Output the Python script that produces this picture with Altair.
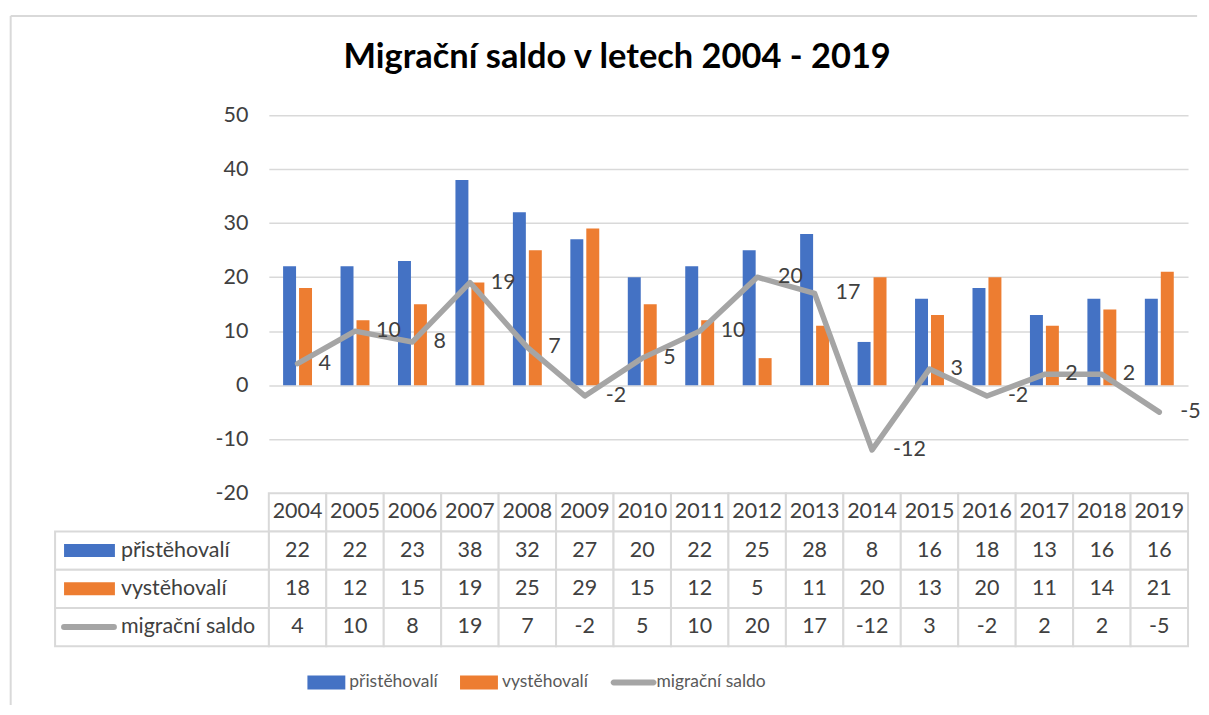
import altair as alt
import pandas as pd

# ---------------- data ----------------
years = [str(y) for y in range(2004, 2020)]
pristehovali = [22, 22, 23, 38, 32, 27, 20, 22, 25, 28, 8, 16, 18, 13, 16, 16]
vystehovali = [18, 12, 15, 19, 25, 29, 15, 12, 5, 11, 20, 13, 20, 11, 14, 21]
saldo = [4, 10, 8, 19, 7, -2, 5, 10, 20, 17, -12, 3, -2, 2, 2, -5]
series = ["přistěhovalí", "vystěhovalí", "migrační saldo"]
colors = ["#4472c4", "#ed7d31", "#a5a5a5"]
y_ticks = [-20, -10, 0, 10, 20, 30, 40, 50]
title_text = "Migrační saldo v letech 2004 - 2019"

# ---------------- tables ----------------
bars_df = pd.DataFrame(
    [{"year": y, "series": series[0], "value": p} for y, p in zip(years, pristehovali)]
    + [{"year": y, "series": series[1], "value": v} for y, v in zip(years, vystehovali)]
)
saldo_df = pd.DataFrame({"year": years, "value": saldo, "label": [str(s) for s in saldo]})
rows = ["rok"] + series
table_df = pd.DataFrame(
    [{"year": y, "row": "rok", "text": y} for y in years]
    + [{"year": y, "row": series[0], "text": str(v)} for y, v in zip(years, pristehovali)]
    + [{"year": y, "row": series[1], "text": str(v)} for y, v in zip(years, vystehovali)]
    + [{"year": y, "row": series[2], "text": str(v)} for y, v in zip(years, saldo)]
)
rows_df = pd.DataFrame({"row": series})
one_df = pd.DataFrame({"k": [0]})

# ---------------- styling ----------------
FONT = "Lato"
FS = 21.5
TXT = "#404040"
GRID = "#d9d9d9"
COLW = 57.6
W = COLW * len(years)
H = 379
TH = 153.4

x_scale = alt.Scale(domain=years, paddingInner=0, paddingOuter=0)
y_scale = alt.Scale(domain=[-20, 50], nice=False, zero=False)
color_scale = alt.Scale(domain=series, range=colors)
bar_path = "M-1,-0.368H1V0.368H-1Z"
line_path = "M-1.05,-0.158H1.05A0.158,0.158 0 0 1 1.05,0.158H-1.05A0.158,0.158 0 0 1 -1.05,-0.158Z"
shape_scale = alt.Scale(domain=series, range=[bar_path, bar_path, line_path])

X = alt.X("year:N", scale=x_scale, sort=years, axis=None)
y_axis = alt.Axis(values=y_ticks, grid=True, gridColor=GRID, gridWidth=1.5,
                  domain=False, ticks=False, labelPadding=21, title=None,
                  labelExpr="'' + datum.value",
                  labelFont=FONT, labelFontSize=FS, labelColor=TXT)
Y = alt.Y("value:Q", scale=y_scale, axis=y_axis)

legend = alt.Legend(
    orient="none", legendX=38.7, legendY=549.5, direction="horizontal", title=None,
    symbolSize=1444, symbolStrokeWidth=0, labelFont=FONT, labelFontSize=17.5,
    labelColor="#595959", labelOffset=4, columnPadding=22, padding=0,
)

bars = alt.Chart(bars_df).mark_bar().encode(
    x=X,
    xOffset=alt.XOffset("series:N", sort=series[:2],
                        scale=alt.Scale(domain=series[:2], paddingInner=0.1875, paddingOuter=0.894)),
    y=Y,
    color=alt.Color("series:N", scale=color_scale, legend=legend),
)

line = alt.Chart(saldo_df).mark_line(
    color=colors[2], strokeWidth=5.5, strokeCap="round", strokeJoin="round"
).encode(x=X, y=Y)

labels = alt.Chart(saldo_df).mark_text(
    align="left", baseline="middle", dx=21, font=FONT, fontSize=FS, color=TXT
).encode(x=X, y=Y, text="label:N")

legend_layer = alt.Chart(pd.DataFrame({"series": series})).mark_point(
    filled=True, opacity=1
).encode(
    color=alt.Color("series:N", scale=color_scale, legend=legend),
    shape=alt.Shape("series:N", scale=shape_scale, legend=legend),
).transform_filter("false")

border_top = alt.Chart(one_df).mark_rule(color=GRID, strokeWidth=2).encode(
    x=alt.value(-258.8), x2=alt.value(1200 - 269.3), y=alt.value(-99.5), y2=alt.value(-99.5)
)
border_left = alt.Chart(one_df).mark_rule(color=GRID, strokeWidth=2).encode(
    x=alt.value(-258.8), x2=alt.value(-258.8), y=alt.value(-99.5), y2=alt.value(706 - 114.5)
)

top = alt.layer(border_top, border_left, bars, line, labels, legend_layer).properties(width=W, height=H)

# ---------------- data table ----------------
TY = alt.Y("row:N", sort=rows, scale=alt.Scale(domain=rows, paddingInner=0, paddingOuter=0), axis=None)

cells = alt.Chart(table_df).mark_rect(fill="white", stroke=GRID, strokeWidth=2).encode(x=X, y=TY)
label_cells = alt.Chart(rows_df).mark_rect(fill="white", stroke=GRID, strokeWidth=2).encode(
    x=alt.value(-214.3), x2=alt.value(0), y=TY
)
cell_text = alt.Chart(table_df).mark_text(
    baseline="middle", font=FONT, fontSize=FS, color=TXT
).encode(x=X, y=TY, text="text:N")
row_text = alt.Chart(rows_df).mark_text(
    align="left", baseline="middle", font=FONT, fontSize=FS, color=TXT
).encode(x=alt.value(-148.3), y=TY, text="row:N")
sym_bar1 = alt.Chart(rows_df).transform_filter(alt.datum.row == series[0]).mark_rule(
    color=colors[0], strokeWidth=13).encode(x=alt.value(-205.3), x2=alt.value(-154.3), y=TY)
sym_bar2 = alt.Chart(rows_df).transform_filter(alt.datum.row == series[1]).mark_rule(
    color=colors[1], strokeWidth=13).encode(x=alt.value(-205.3), x2=alt.value(-154.3), y=TY)
sym_line = alt.Chart(rows_df).transform_filter(alt.datum.row == series[2]).mark_rule(
    color=colors[2], strokeWidth=6, strokeCap="round").encode(x=alt.value(-205.3), x2=alt.value(-155.3), y=TY)

table = alt.layer(cells, label_cells, cell_text, row_text, sym_bar1, sym_bar2, sym_line).properties(
    width=W, height=TH
)

chart = alt.vconcat(top, table, spacing=0, bounds="flush").properties(
    title=alt.TitleParams(
        text=title_text, font=FONT, fontSize=34.5, fontWeight="bold", color="#000000",
        anchor="middle", baseline="alphabetic", offset=-88, dx=12,
    ),
    padding={"left": 1.5, "top": 5.5, "right": 0, "bottom": 0},
).configure(font=FONT).configure_view(stroke="transparent", strokeWidth=0)

chart.save("out.html", embed_options={"renderer": "svg", "actions": False})
